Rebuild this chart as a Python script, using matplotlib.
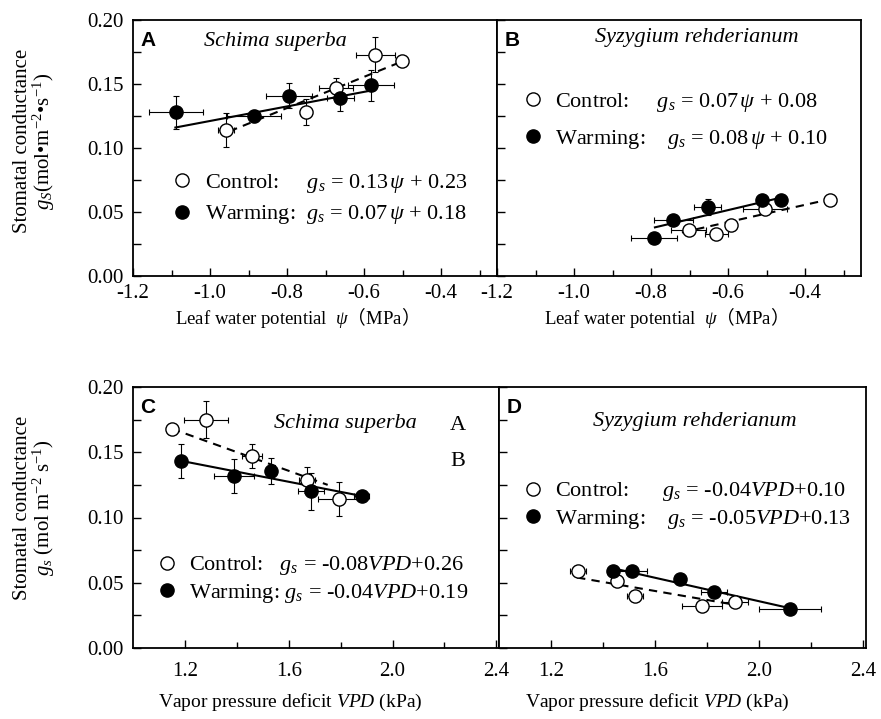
import matplotlib
matplotlib.use("Agg")
import matplotlib.pyplot as plt
from matplotlib.ticker import MultipleLocator, FixedLocator

plt.rcParams['font.family'] = ['Liberation Serif', 'Noto Sans CJK SC']
plt.rcParams['mathtext.fontset'] = 'custom'
plt.rcParams['mathtext.rm'] = 'Liberation Serif'
plt.rcParams['mathtext.it'] = 'Liberation Serif:italic'
plt.rcParams['mathtext.sf'] = 'Noto Sans CJK SC'

# ---- data ----
# A: Schima superba, leaf water potential
a_ctrl_x = [-0.959, -0.751, -0.673, -0.571, -0.502]
a_ctrl_y = [0.114, 0.128, 0.147, 0.173, 0.168]
a_ctrl_xerr = [0.02, 0.015, 0.045, 0.05, 0.015]
a_ctrl_yerr = [0.013, 0.010, 0.008, 0.014, 0.003]
a_warm_x = [-1.089, -0.886, -0.795, -0.662, -0.583]
a_warm_y = [0.128, 0.125, 0.141, 0.139, 0.149]
a_warm_xerr = [0.07, 0.07, 0.06, 0.035, 0.06]
a_warm_yerr = [0.013, 0.005, 0.010, 0.010, 0.012]
a_ctrl_fit_x = [-0.95, -0.49]
a_ctrl_fit_y = [0.113, 0.169]
a_warm_fit_x = [-1.09, -0.58]
a_warm_fit_y = [0.116, 0.145]

# B: Syzygium rehderianum, leaf water potential
b_ctrl_x = [-0.702, -0.631, -0.592, -0.504, -0.335]
b_ctrl_y = [0.036, 0.033, 0.040, 0.052, 0.059]
b_ctrl_xerr = [0.045, 0.03, 0.01, 0.057, 0.015]
b_ctrl_yerr = [0.003, 0.004, 0.003, 0.003, 0.003]
b_warm_x = [-0.792, -0.742, -0.653, -0.513, -0.463]
b_warm_y = [0.030, 0.044, 0.054, 0.059, 0.059]
b_warm_xerr = [0.06, 0.05, 0.035, 0.01, 0.01]
b_warm_yerr = [0.002, 0.003, 0.006, 0.003, 0.003]
b_ctrl_fit_x = [-0.72, -0.35]
b_ctrl_fit_y = [0.034, 0.059]
b_warm_fit_x = [-0.79, -0.466]
b_warm_fit_y = [0.038, 0.061]

# C: Schima superba, VPD
c_ctrl_x = [1.150, 1.281, 1.458, 1.670, 1.795]
c_ctrl_y = [0.168, 0.175, 0.147, 0.129, 0.114]
c_ctrl_xerr = [0.02, 0.086, 0.04, 0.03, 0.083]
c_ctrl_yerr = [0.003, 0.014, 0.009, 0.010, 0.013]
c_warm_x = [1.183, 1.390, 1.532, 1.684, 1.881]
c_warm_y = [0.1435, 0.132, 0.1356, 0.120, 0.1165]
c_warm_xerr = [0.01, 0.077, 0.01, 0.05, 0.03]
c_warm_yerr = [0.013, 0.013, 0.010, 0.014, 0.002]
c_ctrl_fit_x = [1.15, 1.75]
c_ctrl_fit_y = [0.168, 0.125]
c_warm_fit_x = [1.183, 1.881]
c_warm_fit_y = [0.1435, 0.1165]

# D: Syzygium rehderianum, VPD
d_ctrl_x = [1.303, 1.452, 1.522, 1.780, 1.907]
d_ctrl_y = [0.059, 0.051, 0.040, 0.032, 0.035]
d_ctrl_xerr = [0.03, 0.02, 0.03, 0.078, 0.05]
d_ctrl_yerr = [0.002, 0.003, 0.003, 0.002, 0.003]
d_warm_x = [1.439, 1.512, 1.696, 1.827, 2.117]
d_warm_y = [0.059, 0.059, 0.053, 0.043, 0.030]
d_warm_xerr = [0.01, 0.057, 0.01, 0.05, 0.12]
d_warm_yerr = [0.002, 0.002, 0.004, 0.002, 0.002]
d_ctrl_fit_x = [1.30, 1.91]
d_ctrl_fit_y = [0.054, 0.033]
d_warm_fit_x = [1.44, 2.12]
d_warm_fit_y = [0.061, 0.0304]

species = ["Schima superba", "Syzygium rehderianum"]
psi_ticks = [-1.2, -1.0, -0.8, -0.6, -0.4]
vpd_ticks = [1.2, 1.6, 2.0, 2.4]
gs_ticks = [0.00, 0.05, 0.10, 0.15, 0.20]

a_labels = ["Control:     $g_s$ = 0.13$\\,\\psi$ + 0.23",
            "Warming:  $g_s$ = 0.07$\\,\\psi$ + 0.18"]
b_labels = ["Control:     $g_s$ = 0.07$\\,\\psi$ + 0.08",
            "Warming:    $g_s$ = 0.08$\\,\\psi$ + 0.10"]
c_labels = ["Control:   $g_s$ = -0.08$VPD$+0.26",
            "Warming: $g_s$ = -0.04$VPD$+0.19"]
d_labels = ["Control:      $g_s$ = -0.04$VPD$+0.10",
            "Warming:    $g_s$ = -0.05$VPD$+0.13"]

W, H = 881, 719
fig = plt.figure(figsize=(W / 100, H / 100), dpi=100)


def px_axes(x0, y0, w, h):
    return fig.add_axes([x0 / W, 1 - (y0 + h) / H, w / W, h / H])


def draw_series(ax, x, y, xerr, yerr, filled):
    ax.errorbar(x, y, xerr=xerr, yerr=yerr, fmt='none', ecolor='black',
                elinewidth=0.8, capsize=2.5, capthick=0.8, zorder=2)
    face = 'black' if filled else 'white'
    h, = ax.plot(x, y, ls='none', marker='o', ms=9.5, mfc=face,
                 mec='black', mew=1.0, zorder=3)
    return h


def style_axes(ax, xlim, major, minor, show_y, xpad):
    ax.set_xlim(*xlim)
    ax.set_ylim(0, 0.2)
    ax.xaxis.set_major_locator(FixedLocator(major))
    ax.xaxis.set_minor_locator(FixedLocator(minor))
    ax.yaxis.set_major_locator(FixedLocator(gs_ticks))
    ax.yaxis.set_minor_locator(MultipleLocator(0.025))
    ax.tick_params(axis='both', which='both', direction='in',
                   top=False, right=False, width=1.0)
    ax.tick_params(axis='x', which='major', length=6, pad=xpad, labelsize=15)
    ax.tick_params(axis='x', which='minor', length=4)
    ax.tick_params(axis='y', which='both', length=6, pad=7, labelsize=15)
    if show_y:
        ax.set_yticklabels(["%.2f" % t for t in gs_ticks])
    else:
        ax.tick_params(axis='y', labelleft=False)
    for s in ax.spines.values():
        s.set_linewidth(1.3)


def panel(ax, data, labels, letter, name, name_pos, leg_anchor, leg_space):
    (cx, cy, cxe, cye, wx, wy, wxe, wye,
     cfx, cfy, wfx, wfy) = data
    ax.plot(wfx, wfy, color='black', lw=1.5, zorder=1)
    ax.plot(cfx, cfy, color='black', lw=1.5, ls=(0, (4, 3)), zorder=1)
    hc = draw_series(ax, cx, cy, cxe, cye, False)
    hw = draw_series(ax, wx, wy, wxe, wye, True)
    ax.text(0.02, 0.92, letter, transform=ax.transAxes, fontsize=15,
            fontweight='bold', family='Liberation Sans', va='center')
    ax.text(name_pos[0], name_pos[1], name, transform=ax.transAxes,
            fontsize=16, style='italic', ha='center', va='center')
    ax.legend([hc, hw], labels, loc='center left', bbox_to_anchor=leg_anchor,
              frameon=False, handlelength=1, handletextpad=0.5,
              borderpad=0, borderaxespad=0, labelspacing=leg_space,
              prop={'family': 'Liberation Serif', 'size': 16})


ax_a = px_axes(133, 20, 364, 256)
ax_b = px_axes(497, 20, 364, 256)
ax_c = px_axes(133, 387, 366, 261)
ax_d = px_axes(499, 387, 367, 261)

psi_lim = (-1.2, -0.255)
vpd_lim = (1.0, 2.41)
psi_minor = [-1.1, -0.9, -0.7, -0.5, -0.3]
vpd_minor = [1.4, 1.8, 2.2]
style_axes(ax_a, psi_lim, psi_ticks, psi_minor, True, 6)
style_axes(ax_b, psi_lim, psi_ticks, psi_minor, False, 6)
style_axes(ax_c, vpd_lim, vpd_ticks, vpd_minor, True, 10)
style_axes(ax_d, vpd_lim, vpd_ticks, vpd_minor, False, 10)
for ax in (ax_a, ax_b):
    ax.set_xticklabels(["%.1f" % t for t in psi_ticks])
for ax in (ax_c, ax_d):
    ax.set_xticklabels(["%.1f" % t for t in vpd_ticks])

panel(ax_a, (a_ctrl_x, a_ctrl_y, a_ctrl_xerr, a_ctrl_yerr,
             a_warm_x, a_warm_y, a_warm_xerr, a_warm_yerr,
             a_ctrl_fit_x, a_ctrl_fit_y, a_warm_fit_x, a_warm_fit_y),
      a_labels, "A", species[0], (0.39, 0.915), (0.105, 0.30), 0.38)
panel(ax_b, (b_ctrl_x, b_ctrl_y, b_ctrl_xerr, b_ctrl_yerr,
             b_warm_x, b_warm_y, b_warm_xerr, b_warm_yerr,
             b_ctrl_fit_x, b_ctrl_fit_y, b_warm_fit_x, b_warm_fit_y),
      b_labels, "B", species[1], (0.55, 0.93), (0.068, 0.605), 0.62)
panel(ax_c, (c_ctrl_x, c_ctrl_y, c_ctrl_xerr, c_ctrl_yerr,
             c_warm_x, c_warm_y, c_warm_xerr, c_warm_yerr,
             c_ctrl_fit_x, c_ctrl_fit_y, c_warm_fit_x, c_warm_fit_y),
      c_labels, "C", species[0], (0.58, 0.862), (0.063, 0.262), 0.2)
panel(ax_d, (d_ctrl_x, d_ctrl_y, d_ctrl_xerr, d_ctrl_yerr,
             d_warm_x, d_warm_y, d_warm_xerr, d_warm_yerr,
             d_ctrl_fit_x, d_ctrl_fit_y, d_warm_fit_x, d_warm_fit_y),
      d_labels, "D", species[1], (0.534, 0.866), (0.063, 0.545), 0.22)

ax_c.text(0.888, 0.854, "A", transform=ax_c.transAxes, fontsize=16,
          ha='center', va='center')
ax_c.text(0.888, 0.716, "B", transform=ax_c.transAxes, fontsize=16,
          ha='center', va='center')

psi_label = "Leaf water potential  $\\psi$$\\mathsf{（}$MPa$\\mathsf{）}$"
vpd_label = "Vapor pressure deficit $VPD$ (kPa)"
for ax, xc in ((ax_a, 0.437), (ax_b, 0.45)):
    ax.set_xlabel(psi_label, fontsize=13.5)
    ax.xaxis.set_label_coords(xc, -0.115)
for ax, xc in ((ax_c, 0.43), (ax_d, 0.43)):
    ax.set_xlabel(vpd_label, fontsize=14)
    ax.xaxis.set_label_coords(xc, -0.17)

# y axis titles (two lines each)
fig.text(35 / W, 1 - 141 / H,
         "Stomatal conductance\n$g_S$(mol•m$^{-2}$•s$^{-1}$)",
         rotation=90, fontsize=15, ha='center', va='center',
         multialignment='center', linespacing=0.9)
fig.text(35 / W, 1 - 508 / H,
         "Stomatal conductance\n$g_s$ (mol m$^{-2}$ s$^{-1}$)",
         rotation=90, fontsize=15, ha='center', va='center',
         multialignment='center', linespacing=0.9)

fig.savefig("out.png", dpi=100)
